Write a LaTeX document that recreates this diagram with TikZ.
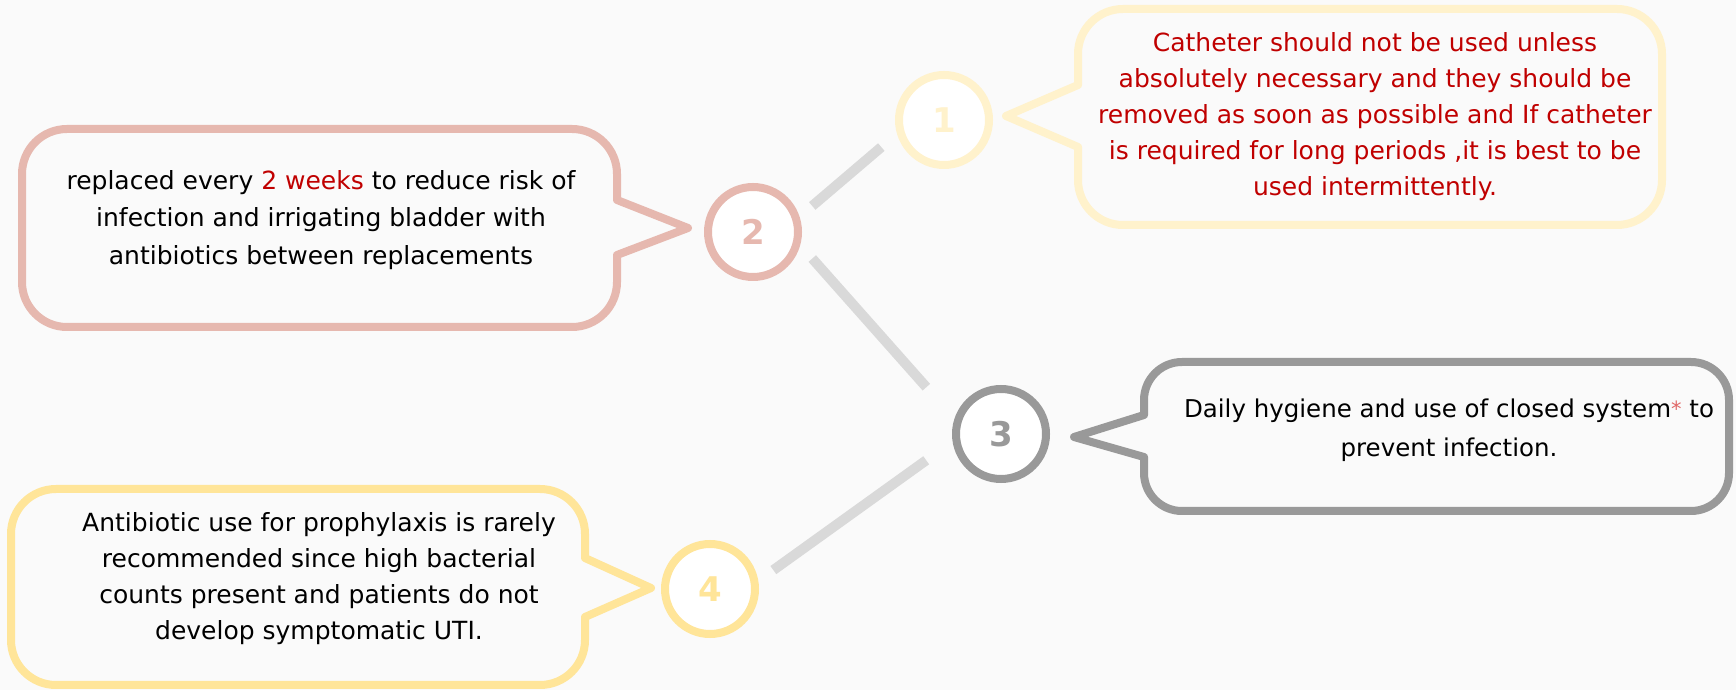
\documentclass[tikz,border=0pt]{standalone}
\usepackage{fontspec}
\setmainfont{DejaVu Sans}
\definecolor{bgc}{HTML}{FAFAFA}
\definecolor{pinkc}{HTML}{E6B8AF}
\definecolor{ylight}{HTML}{FFF2CC}
\definecolor{yc}{HTML}{FFE599}
\definecolor{grayc}{HTML}{999999}
\definecolor{connc}{HTML}{D9D9D9}
\definecolor{redc}{HTML}{C00000}
\definecolor{astc}{HTML}{E06666}
\tikzset{
  circ/.style={circle, draw, line width=8pt, fill=white, minimum size=90pt, inner sep=0pt, outer sep=0pt, font=\bfseries\fontsize{34}{34}\selectfont},
  conn/.style={line width=10pt, draw=connc},
  bub/.style={line width=8pt, line join=round},
  txt/.style={align=center, font=\fontsize{25}{36}\selectfont, inner sep=0pt}
}
\begin{document}
\begin{tikzpicture}[x=1pt,y=1pt]
\useasboundingbox (0,0) rectangle (1736,690);
\fill[bgc] (0,0) rectangle (1736,690);
% bubble 1
\draw[bub, draw=ylight] (1123,681) -- (1617,681) arc[start angle=90,end angle=0,radius=45] -- (1662,510) arc[start angle=0,end angle=-90,radius=45] -- (1123,465) arc[start angle=270,end angle=180,radius=45] -- (1078,543) -- (1006,574) -- (1078,605) -- (1078,636) arc[start angle=180,end angle=90,radius=45] -- cycle;
% bubble 2
\draw[bub, draw=pinkc] (67,561) -- (572,561) arc[start angle=90,end angle=0,radius=45] -- (617,490) -- (688,462) -- (617,435) -- (617,408) arc[start angle=0,end angle=-90,radius=45] -- (67,363) arc[start angle=270,end angle=180,radius=45] -- (22,516) arc[start angle=180,end angle=90,radius=45] -- cycle;
% bubble 3
\draw[bub, draw=grayc] (1182,328) -- (1691,328) arc[start angle=90,end angle=0,radius=38] -- (1729,217) arc[start angle=0,end angle=-90,radius=38] -- (1182,179) arc[start angle=270,end angle=180,radius=38] -- (1144,233) -- (1074,253) -- (1144,275) -- (1144,290) arc[start angle=180,end angle=90,radius=38] -- cycle;
% bubble 4
\draw[bub, draw=yc] (56,201) -- (540,201) arc[start angle=90,end angle=0,radius=45] -- (585,132) -- (651,102) -- (585,73) -- (585,50) arc[start angle=0,end angle=-90,radius=45] -- (56,5) arc[start angle=270,end angle=180,radius=45] -- (11,156) arc[start angle=180,end angle=90,radius=45] -- cycle;
% circles
\node[circ, draw=ylight, text=ylight] (c1) at (944,570) {1};
\node[circ, draw=pinkc, text=pinkc] (c2) at (753,458) {2};
\node[circ, draw=grayc, text=grayc] (c3) at (1001,256) {3};
\node[circ, draw=yc, text=yc] (c4) at (710,101) {4};
% connectors
\draw[conn, shorten <=21pt, shorten >=25pt] (c2.16) -- (c1.194);
\draw[conn, shorten <=23pt, shorten >=47pt] (c2.348) -- (c3.165);
\draw[conn, shorten <=37pt, shorten >=23pt] (c3.186) -- (c4.7);
% texts
\node[txt, text=redc] (t1) at (1375,573) {Catheter should not be used unless\\absolutely necessary and they should be\\removed as soon as possible and If catheter\\is required for long periods ,it is best to be\\used intermittently.};
\node[txt, font=\fontsize{25}{37.5}\selectfont] (t2) at (321,470) {replaced every \textcolor{redc}{2 weeks} to reduce risk of\\infection and irrigating bladder with\\antibiotics between replacements};
\node[txt, font=\fontsize{24.5}{39}\selectfont] (t3) at (1449,260) {Daily hygiene and use of closed system\textcolor{astc}{\fontsize{21}{21}\selectfont\raisebox{1pt}{*}} to\\prevent infection.};
\node[txt] (t4) at (319,111) {Antibiotic use for prophylaxis is rarely\\recommended since high bacterial\\counts present and patients do not\\develop symptomatic UTI.};
\end{tikzpicture}
\end{document}
